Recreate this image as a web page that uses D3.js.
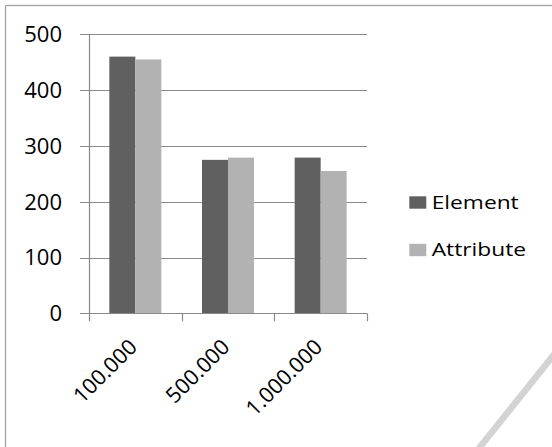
<!DOCTYPE html>
<html>
<head>
<meta charset="utf-8">
<script src="https://cdn.jsdelivr.net/npm/d3@7"></script>
<style>
  html, body { margin: 0; padding: 0; background: #ffffff; }
  svg { display: block; }
</style>
</head>
<body>
<script>
// Data
const categories = ["100.000", "500.000", "1.000.000"];
const seriesNames = ["Element", "Attribute"];
const elementValues = [460, 275, 279];
const attributeValues = [455, 279, 255];
const yTicks = [0, 100, 200, 300, 400, 500];

const seriesValues = [elementValues, attributeValues];
const colors = ["#606060", "#b2b2b2"];

const W = 552, H = 447;
const plot = { left: 89, right: 367, top: 34.3, bottom: 313.3 };
const font = "'Open Sans', sans-serif";

const svg = d3.select("body").append("svg")
  .attr("width", W).attr("height", H);

// Outer chart frame (runs off the right and bottom of the page)
svg.append("rect")
  .attr("x", 5.5).attr("y", 5.5)
  .attr("width", 600).attr("height", 500)
  .attr("fill", "none")
  .attr("stroke", "#a3a3a3")
  .attr("stroke-width", 1.3);

const x = d3.scaleBand()
  .domain(categories)
  .range([plot.left, plot.right])
  .paddingInner(0).paddingOuter(0);

const xInner = d3.scaleBand()
  .domain(seriesNames)
  .range([0, x.bandwidth()])
  .paddingInner(0).paddingOuter(0.782);

const y = d3.scaleLinear()
  .domain([0, 500])
  .range([plot.bottom, plot.top]);

// Horizontal gridlines with outward tick stubs
svg.append("g")
  .selectAll("line")
  .data(yTicks)
  .join("line")
  .attr("x1", plot.left - 9)
  .attr("x2", plot.right)
  .attr("y1", d => Math.round(y(d)) + 0.5)
  .attr("y2", d => Math.round(y(d)) + 0.5)
  .attr("stroke", "#8a8a8a")
  .attr("stroke-width", 1);

// Bars
const rows = categories.map((c, i) => ({
  cat: c,
  vals: seriesNames.map((s, j) => ({ s, v: seriesValues[j][i], j }))
}));

svg.append("g")
  .selectAll("g")
  .data(rows)
  .join("g")
  .attr("transform", d => `translate(${x(d.cat)},0)`)
  .selectAll("rect")
  .data(d => d.vals)
  .join("rect")
  .attr("x", d => xInner(d.s))
  .attr("width", xInner.bandwidth())
  .attr("y", d => y(d.v))
  .attr("height", d => y(0) - y(d.v))
  .attr("fill", d => colors[d.j]);

// Y axis line
svg.append("line")
  .attr("x1", plot.left + 0.5).attr("x2", plot.left + 0.5)
  .attr("y1", plot.top).attr("y2", plot.bottom + 8)
  .attr("stroke", "#8a8a8a").attr("stroke-width", 1.2);

// X axis line and category separators
svg.append("line")
  .attr("x1", plot.left).attr("x2", plot.right)
  .attr("y1", Math.round(plot.bottom) + 0.5).attr("y2", Math.round(plot.bottom) + 0.5)
  .attr("stroke", "#8a8a8a").attr("stroke-width", 1.2);

const sepPositions = categories.map(c => x(c)).concat([plot.right]);
svg.append("g")
  .selectAll("line")
  .data(sepPositions.slice(1))
  .join("line")
  .attr("x1", d => Math.round(d) + 0.5)
  .attr("x2", d => Math.round(d) + 0.5)
  .attr("y1", plot.bottom)
  .attr("y2", plot.bottom + 8)
  .attr("stroke", "#8a8a8a").attr("stroke-width", 1.2);

// Y tick labels
svg.append("g")
  .selectAll("text")
  .data(yTicks)
  .join("text")
  .attr("x", 62)
  .attr("y", d => y(d))
  .attr("dy", "0.36em")
  .attr("text-anchor", "end")
  .attr("font-family", font)
  .attr("font-size", 22)
  .attr("fill", "#000")
  .text(d => d);

// Rotated category labels
svg.append("g")
  .selectAll("text")
  .data(categories)
  .join("text")
  .attr("transform", d => `translate(${x(d) + x.bandwidth() / 2 + 3},${plot.bottom + 35}) rotate(-45)`)
  .attr("text-anchor", "end")
  .attr("font-family", font)
  .attr("font-size", 21.5)
  .attr("fill", "#000")
  .text(d => d);

// Legend
const legend = svg.append("g")
  .selectAll("g")
  .data(seriesNames)
  .join("g")
  .attr("transform", (d, i) => `translate(409.3,${196.3 + i * 47.5})`);

legend.append("rect")
  .attr("width", 17).attr("height", 12.4)
  .attr("fill", (d, i) => colors[i]);

legend.append("text")
  .attr("transform", "translate(22.4,12.4) scale(1.21,1)")
  .attr("font-family", font)
  .attr("font-size", 18.8)
  .attr("fill", "#000")
  .text(d => d);

// Diagonal page-curl stroke in the lower right corner
svg.append("line")
  .attr("x1", 556).attr("y1", 352)
  .attr("x2", 476).attr("y2", 452)
  .attr("stroke", "#d3d3d3")
  .attr("stroke-width", 6.5)
  .style("filter", "blur(0.6px)");
</script>
</body>
</html>
